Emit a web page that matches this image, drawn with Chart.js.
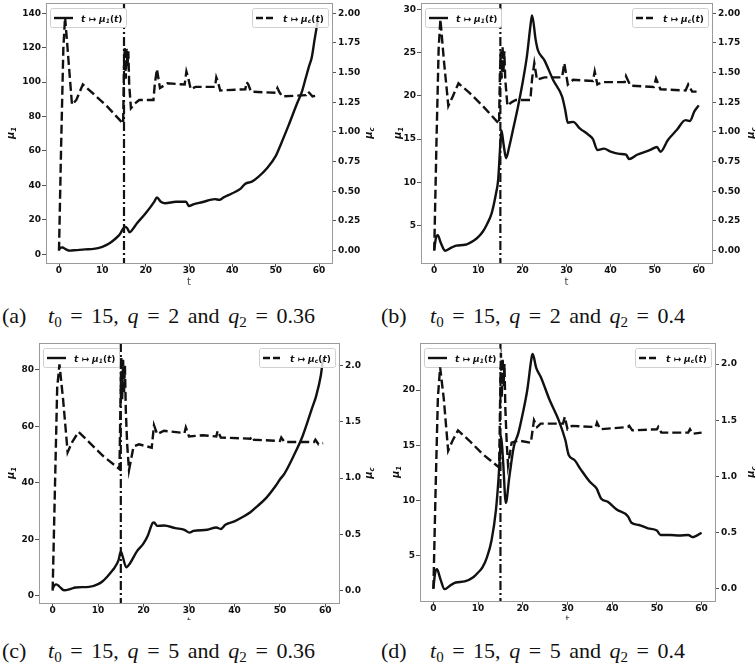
<!DOCTYPE html>
<html><head><meta charset="utf-8">
<script src="https://cdn.jsdelivr.net/npm/chart.js@4/dist/chart.umd.min.js"></script>
<style>
html,body{margin:0;padding:0;background:#fff;width:755px;height:670px;overflow:hidden;position:relative}
canvas{position:absolute}
.cap{position:absolute;font-family:"Liberation Serif","DejaVu Serif",serif;font-size:22px;color:#111;white-space:nowrap;line-height:22px}
.cap .m{position:absolute;top:0;white-space:nowrap}
.cap sub{font-size:15px;vertical-align:-4px;line-height:0}
</style></head><body>
<canvas id="cA" width="375" height="290" style="left:0;top:0"></canvas>
<canvas id="cB" width="380" height="290" style="left:375px;top:0"></canvas>
<canvas id="cC" width="375" height="290" style="left:0;top:330px"></canvas>
<canvas id="cD" width="380" height="290" style="left:375px;top:330px"></canvas>
<div class="cap" style="left:2px;top:305px"><span>(a)</span><span class="m" data-w="267" style="left:46px"><i>t</i><sub>0</sub> = 15, <i>q</i> = 2 and <i>q</i><sub>2</sub> = 0.36</span></div>
<div class="cap" style="left:381px;top:305px"><span>(b)</span><span class="m" data-w="255" style="left:49px"><i>t</i><sub>0</sub> = 15, <i>q</i> = 2 and <i>q</i><sub>2</sub> = 0.4</span></div>
<div class="cap" style="left:2px;top:640px"><span>(c)</span><span class="m" data-w="267" style="left:46px"><i>t</i><sub>0</sub> = 15, <i>q</i> = 5 and <i>q</i><sub>2</sub> = 0.36</span></div>
<div class="cap" style="left:381px;top:640px"><span>(d)</span><span class="m" data-w="255" style="left:49px"><i>t</i><sub>0</sub> = 15, <i>q</i> = 5 and <i>q</i><sub>2</sub> = 0.4</span></div>
<script>
// ---------- DATA ----------
const xTicks = [0, 10, 20, 30, 40, 50, 60];
const leftTicksA = [0, 20, 40, 60, 80, 100, 120, 140];
const leftTicksB = [5, 10, 15, 20, 25, 30];
const leftTicksC = [0, 20, 40, 60, 80];
const leftTicksD = [5, 10, 15, 20];
const rightTicksAB = [0, 0.25, 0.5, 0.75, 1.0, 1.25, 1.5, 1.75, 2.0];
const rightTicksCD = [0, 0.5, 1.0, 1.5, 2.0];
const t0 = 15;

// (a) t0=15, q=2, q2=0.36
const tA1 = [0, 0.4, 0.8, 1.5, 2.5, 4, 6, 8, 10, 11, 12, 13, 14, 14.6, 15.2, 15.7, 16.3, 17, 18, 20, 22, 22.6, 23.5, 24.5, 27, 29.3, 30, 31, 33, 36, 37, 38, 40, 42, 43, 44.5, 46, 48, 50, 51.3, 53, 55, 56, 57, 57.8, 58.3, 59, 59.8];
const mu1A = [2.9, 3.8, 3.9, 3.0, 2.1, 2.4, 2.8, 3.1, 4.3, 5.4, 7.0, 9.0, 11.5, 14.0, 16.0, 15.2, 12.8, 14.5, 18, 23.8, 30.6, 33, 30.5, 29.6, 30.5, 30.5, 28, 29, 30.2, 32, 31.6, 33, 35.4, 38.3, 41, 42.2, 45, 50, 57, 64.5, 75, 88, 94, 103, 110, 114, 125, 137];
const tA2 = [0, 0.5, 1.0, 1.4, 2.2, 3.0, 4.0, 5.5, 8, 11, 14.8, 15.0, 15.2, 15.4, 15.6, 15.8, 16.0, 16.2, 16.6, 17.5, 18.5, 21.8, 22.1, 22.6, 23.3, 25, 29, 29.4, 29.8, 30.4, 31.5, 36, 36.3, 36.7, 37.2, 43, 43.3, 43.7, 44.3, 50, 50.4, 50.8, 51.5, 57, 57.5, 58, 58.5, 60];
const mucA = [0.0, 0.9, 1.7, 1.97, 1.6, 1.23, 1.27, 1.40, 1.32, 1.22, 1.07, 1.55, 1.72, 1.45, 1.70, 1.55, 1.68, 1.4, 1.2, 1.24, 1.27, 1.27, 1.40, 1.53, 1.37, 1.41, 1.40, 1.51, 1.46, 1.36, 1.38, 1.38, 1.46, 1.42, 1.35, 1.36, 1.42, 1.40, 1.34, 1.33, 1.37, 1.34, 1.30, 1.31, 1.34, 1.32, 1.30, 1.31];

// (b) t0=15, q=2, q2=0.4
const tB1 = [0, 0.4, 0.8, 1.5, 2.5, 4, 5, 7, 9, 10, 11, 12, 13, 14, 14.5, 15, 15.25, 15.7, 16.3, 17, 18, 19, 20, 21, 22, 22.2, 23, 23.5, 25, 27, 29, 29.7, 30.3, 31.5, 33, 35, 36, 37, 38.5, 40, 42, 43.5, 44.2, 46, 49, 50.5, 51.3, 53, 55, 57, 58, 59, 60];
const mu1B = [2.2, 3.6, 3.9, 3.0, 2.1, 2.5, 2.7, 2.8, 3.3, 3.7, 4.3, 5.2, 6.4, 8.7, 10.3, 14.5, 16.0, 14.5, 12.8, 14.1, 16.4, 18.75, 21.4, 24.5, 28.8, 29.3, 26.5, 25.3, 24.1, 21.8, 19.9, 18.4, 16.9, 17.0, 16.25, 15.5, 15.0, 13.75, 13.9, 13.55, 13.3, 13.2, 12.7, 13.2, 13.75, 14.1, 13.55, 14.9, 16.05, 17.2, 17.1, 18.2, 18.9];
const tB2 = [0, 0.5, 1.0, 1.4, 2.2, 3.2, 4.2, 5.5, 8, 11, 14.7, 14.9, 15.1, 15.3, 15.5, 15.7, 15.9, 16.1, 16.6, 17.5, 18.5, 21.8, 22.2, 22.7, 23.3, 25, 29, 29.5, 30.3, 31.5, 36, 36.4, 37.0, 38, 43.2, 43.5, 44.5, 49.8, 50.3, 51.3, 57, 57.6, 58.5, 59.5];
const mucB = [0, 0.9, 1.7, 1.95, 1.6, 1.22, 1.3, 1.41, 1.33, 1.22, 1.07, 1.5, 1.68, 1.45, 1.72, 1.5, 1.68, 1.45, 1.22, 1.25, 1.27, 1.27, 1.45, 1.58, 1.44, 1.46, 1.46, 1.58, 1.40, 1.44, 1.43, 1.51, 1.40, 1.42, 1.42, 1.47, 1.39, 1.38, 1.45, 1.36, 1.35, 1.40, 1.34, 1.34];

// (c) t0=15, q=5, q2=0.36
const tC1 = [0, 0.4, 0.8, 1.5, 2.5, 4, 5, 8, 10, 11, 12, 13, 13.5, 14.5, 15, 15.4, 16.2, 17, 18.5, 20, 21, 22, 22.3, 23, 24.5, 27, 29, 30.1, 31, 34, 36, 37, 38, 40, 42, 43.5, 45, 47, 49, 50, 51, 53, 55, 57, 58, 59, 59.5];
const mu1C = [2.6, 3.8, 4.1, 3.3, 2.0, 2.5, 3.0, 3.2, 4.2, 5.2, 6.8, 8.7, 9.7, 12.7, 15.7, 14, 10.1, 11.5, 15.7, 18.6, 21.6, 25.8, 26, 24.8, 24.9, 24, 23.4, 22.4, 23, 23.4, 24.2, 23.7, 25.2, 26.4, 28.1, 29.6, 31.7, 34.7, 38.8, 41.2, 43.3, 49.5, 56.6, 66.1, 70.9, 78, 84];
const tC2 = [0, 0.5, 1.0, 1.5, 2.3, 3.3, 4.3, 5.7, 8, 11, 14.7, 14.9, 15.1, 15.3, 15.5, 15.7, 15.9, 16.1, 16.4, 16.8, 17.8, 19, 21.8, 22.3, 23, 24.5, 29, 29.3, 30, 33, 36, 36.3, 37, 43.5, 43.8, 44.3, 50, 50.3, 51, 57.5, 57.8, 58.5, 59.5];
const mucC = [0, 0.9, 1.8, 2.01, 1.7, 1.23, 1.32, 1.41, 1.32, 1.2, 1.08, 1.6, 2.08, 1.7, 2.05, 1.75, 2.0, 1.6, 1.3, 1.07, 1.28, 1.30, 1.27, 1.47, 1.39, 1.42, 1.40, 1.45, 1.37, 1.38, 1.37, 1.42, 1.36, 1.35, 1.37, 1.34, 1.33, 1.36, 1.32, 1.32, 1.34, 1.30, 1.31];

// (d) t0=15, q=5, q2=0.4
const tD1 = [0, 0.4, 0.8, 1.5, 2.5, 4, 5, 7, 9, 10, 11, 12, 13, 14, 14.6, 15, 15.15, 15.6, 16.2, 17, 18, 19, 20, 21, 22, 22.2, 23, 24, 26, 28, 29.5, 30.3, 31.5, 33, 35, 36.5, 37.5, 39, 41, 43.5, 44.3, 46, 48, 50, 50.8, 53, 55, 57, 58, 60];
const mu1D = [2.1, 3.5, 3.8, 3.0, 2.0, 2.4, 2.6, 2.7, 3.1, 3.5, 4.0, 4.9, 6.4, 9.2, 12.2, 15.0, 15.8, 13.5, 9.8, 12.2, 14.9, 16.1, 17.9, 20.0, 23.0, 23.25, 22.0, 21.2, 19.1, 17.3, 15.5, 14.1, 13.7, 12.8, 11.7, 11.1, 10.2, 9.9, 9.2, 8.6, 8.0, 7.8, 7.5, 7.3, 6.9, 6.9, 6.85, 6.9, 6.7, 7.1];
const tD2 = [0, 0.5, 1.0, 1.5, 2.3, 3.3, 4.3, 5.5, 8, 11, 14.7, 14.9, 15.1, 15.3, 15.5, 15.7, 15.9, 16.1, 16.4, 16.7, 17.5, 19, 21.8, 22.5, 23.2, 24, 29, 29.4, 30, 31, 36.3, 36.6, 37.3, 43.5, 43.8, 44.5, 50, 50.3, 51, 57, 57.4, 58, 60];
const mucD = [0, 0.9, 1.7, 1.97, 1.7, 1.23, 1.32, 1.41, 1.32, 1.2, 1.08, 1.6, 2.1, 1.7, 2.05, 1.8, 2.0, 1.6, 1.3, 1.10, 1.30, 1.32, 1.30, 1.5, 1.44, 1.47, 1.47, 1.53, 1.42, 1.45, 1.44, 1.48, 1.42, 1.44, 1.45, 1.41, 1.42, 1.44, 1.39, 1.39, 1.42, 1.38, 1.39];

// ---------- DRAWING ----------
const FONT = '"DejaVu Sans"';
const INK = '#111';

function pts(xs, ys) { return xs.map((x, i) => ({x: x, y: ys[i]})); }

function mathLegend(ctx, x, yb, sub, size) {
  const fi = `italic bold ${size}px ${FONT}`, fu = `bold ${size}px ${FONT}`, fs = `italic bold ${Math.round(size * 0.7)}px ${FONT}`;
  const parts = [[fi, 't', 0], [fu, ' \u21A6 ', 0], [fi, '\u03BC', 0], [fs, sub, size * 0.22], [fu, '(', 0], [fi, 't', 0], [fu, ')', 0]];
  let cx = x;
  for (const [f, s, dy] of parts) { ctx.font = f; ctx.fillText(s, cx, yb + dy); cx += ctx.measureText(s).width; }
}

function drawLegend(chart, side) {
  const ca = chart.chartArea, ctx = chart.ctx;
  const w = 76, h = 19;
  const x = side === 'left' ? ca.left + 4 : ca.right - 4 - w;
  const y = ca.top + 5;
  ctx.save();
  ctx.fillStyle = side === 'left' ? '#fff' : 'rgba(255,255,255,0.8)';
  ctx.strokeStyle = '#d0d0d0'; ctx.lineWidth = 1;
  ctx.beginPath();
  if (ctx.roundRect) ctx.roundRect(x + 0.5, y + 0.5, w, h, 2); else ctx.rect(x + 0.5, y + 0.5, w, h);
  ctx.fill(); ctx.stroke();
  ctx.strokeStyle = INK; ctx.lineWidth = 2.4;
  ctx.setLineDash(side === 'left' ? [] : [7, 3]);
  ctx.beginPath(); ctx.moveTo(x + 4, y + h / 2 + 0.5); ctx.lineTo(x + 23, y + h / 2 + 0.5); ctx.stroke();
  ctx.setLineDash([]);
  ctx.fillStyle = INK; ctx.textBaseline = 'alphabetic'; ctx.textAlign = 'left';
  mathLegend(ctx, x + 31, y + h / 2 + 4, side === 'left' ? '1' : 'c', 9);
  ctx.restore();
}

function rotLabel(ctx, x, y, sub) {
  ctx.save(); ctx.translate(x, y); ctx.rotate(-Math.PI / 2);
  ctx.fillStyle = INK; ctx.textBaseline = 'alphabetic';
  const f1 = `italic bold 10px ${FONT}`, f2 = `italic bold 7px ${FONT}`;
  ctx.font = f1; const w1 = ctx.measureText('\u03BC').width;
  ctx.font = f2; const w2 = ctx.measureText(sub).width;
  const x0 = -(w1 + w2) / 2;
  ctx.font = f1; ctx.fillText('\u03BC', x0, 3.5);
  ctx.font = f2; ctx.fillText(sub, x0 + w1, 5.5);
  ctx.restore();
}

const deco = {
  id: 'deco',
  beforeDatasetDraw(chart, args) {
    if (args.index !== 1) return;
    const ctx = chart.ctx, ca = chart.chartArea;
    const xp = chart.scales.x.getPixelForValue(t0);
    ctx.save();
    ctx.strokeStyle = INK; ctx.lineWidth = 2.2; ctx.setLineDash([9, 3, 2, 3]);
    ctx.beginPath(); ctx.moveTo(xp, ca.top); ctx.lineTo(xp, ca.bottom); ctx.stroke();
    ctx.restore();
    drawLegend(chart, 'left');
  },
  afterDatasetsDraw(chart) {
    drawLegend(chart, 'right');
    const ctx = chart.ctx, ca = chart.chartArea, o = chart.options.plugins.deco;
    ctx.save();
    ctx.strokeStyle = '#9a9a9a'; ctx.lineWidth = 1;
    ctx.strokeRect(Math.round(ca.left) + 0.5, Math.round(ca.top) + 0.5, Math.round(ca.right - ca.left), Math.round(ca.bottom - ca.top));
    rotLabel(ctx, o.yLx, (ca.top + ca.bottom) / 2, '1');
    rotLabel(ctx, o.yRx, (ca.top + ca.bottom) / 2, 'c');
    ctx.fillStyle = '#444'; ctx.font = `10px ${FONT}`; ctx.textAlign = 'center'; ctx.textBaseline = 'middle';
    ctx.fillText('t', (ca.left + ca.right) / 2, ca.bottom + 19);
    ctx.restore();
  }
};

function makeChart(id, g, s) {
  const cv = document.getElementById(id);
  const W = cv.width, H = cv.height;
  const tickFont = {family: FONT, size: 9, weight: 'bold'};
  const gridOpt = {display: true, drawOnChartArea: false, drawTicks: true, tickLength: 4, color: '#555', tickWidth: 1};
  return new Chart(cv, {
    type: 'line',
    data: {
      datasets: [
        {data: pts(s.t1, s.mu1), yAxisID: 'y', borderColor: INK, borderWidth: 2.4, pointRadius: 0, tension: 0.3, cubicInterpolationMode: 'monotone', fill: false, order: 2},
        {data: pts(s.t2, s.muc), yAxisID: 'y1', borderColor: INK, borderWidth: 2.4, borderDash: [9, 4], pointRadius: 0, tension: 0, fill: false, order: 1}
      ]
    },
    options: {
      responsive: false, animation: false, devicePixelRatio: 1,
      layout: {padding: {top: g.top, left: 0, right: 0, bottom: 0}},
      plugins: {legend: {display: false}, tooltip: {enabled: false}, deco: {yLx: g.yLx, yRx: g.yRx}},
      scales: {
        x: {type: 'linear', position: 'bottom', min: -3, max: 63,
            afterBuildTicks: sc => { sc.ticks = xTicks.map(v => ({value: v})); },
            afterFit: sc => { sc.height = H - g.bottom; sc.paddingLeft = 0; sc.paddingRight = 0; },
            ticks: {font: tickFont, color: INK, padding: -2, maxRotation: 0, autoSkip: false},
            grid: gridOpt, border: {display: false}},
        y: {type: 'linear', position: 'left', min: s.yMin, max: s.yMax,
            afterBuildTicks: sc => { sc.ticks = s.lt.map(v => ({value: v})); },
            afterFit: sc => { sc.width = g.left; sc.paddingTop = 0; sc.paddingBottom = 0; },
            ticks: {font: tickFont, color: INK, padding: 1, autoSkip: false, callback: v => String(v)},
            grid: gridOpt, border: {display: false}},
        y1: {type: 'linear', position: 'right', min: s.y1Min, max: s.y1Max,
            afterBuildTicks: sc => { sc.ticks = s.rt.map(v => ({value: v})); },
            afterFit: sc => { sc.width = W - g.right; sc.paddingTop = 0; sc.paddingBottom = 0; },
            ticks: {font: tickFont, color: INK, padding: 2, autoSkip: false, callback: v => Number(v).toFixed(s.rd)},
            grid: gridOpt, border: {display: false}}
      }
    },
    plugins: [deco]
  });
}

makeChart('cA', {left: 46, right: 332, top: 3, bottom: 263, yLx: 10, yRx: 368},
  {t1: tA1, mu1: mu1A, t2: tA2, muc: mucA, yMin: -5.1, yMax: 146, y1Min: -0.104, y1Max: 2.087, lt: leftTicksA, rt: rightTicksAB, rd: 2});
makeChart('cB', {left: 46, right: 337, top: 3, bottom: 263, yLx: 22, yRx: 375},
  {t1: tB1, mu1: mu1B, t2: tB2, muc: mucB, yMin: 0.69, yMax: 30.73, y1Min: -0.104, y1Max: 2.087, lt: leftTicksB, rt: rightTicksAB, rd: 2});
makeChart('cC', {left: 39, right: 339, top: 13, bottom: 273, yLx: 10, yRx: 368},
  {t1: tC1, mu1: mu1C, t2: tC2, muc: mucC, yMin: -2.5, yMax: 89.5, y1Min: -0.11, y1Max: 2.2, lt: leftTicksC, rt: rightTicksCD, rd: 1});
makeChart('cD', {left: 45, right: 340, top: 13, bottom: 271, yLx: 20, yRx: 375},
  {t1: tD1, mu1: mu1D, t2: tD2, muc: mucD, yMin: 0.93, yMax: 24.25, y1Min: -0.107, y1Max: 2.187, lt: leftTicksD, rt: rightTicksCD, rd: 1});

// fit caption math width
document.querySelectorAll('.cap .m').forEach(el => {
  const target = +el.dataset.w;
  const nat = el.getBoundingClientRect().width;
  const spaces = (el.textContent.match(/ /g) || []).length;
  if (spaces > 0) el.style.wordSpacing = ((target - nat) / spaces) + 'px';
});
</script>
</body></html>
